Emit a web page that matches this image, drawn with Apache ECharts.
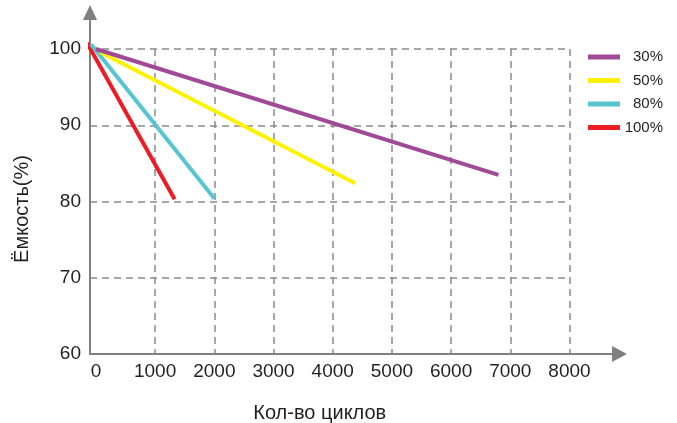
<!DOCTYPE html>
<html>
<head>
<meta charset="utf-8">
<script src="https://cdn.jsdelivr.net/npm/echarts@6/dist/echarts.min.js"></script>
<style>html,body{margin:0;padding:0;background:#fff}#c{width:677px;height:423px}</style>
</head>
<body>
<div id="c"></div>
<script>
// ---- data ----
var seriesNames = ['30%', '50%', '80%', '100%'];
var cycles30 = [0, 6800];   var cap30 = [100, 83.5];
var cycles50 = [70, 4380];  var cap50 = [99.6, 82.4];
var cycles80 = [-80, 2000]; var cap80 = [100.6, 80.4];
var cycles100 = [-150, 1330]; var cap100 = [100.8, 80.3];
var xTickLabels = [0, 1000, 2000, 3000, 4000, 5000, 6000, 7000, 8000];
var yTickLabels = [60, 70, 80, 90, 100];
var xGridValues = [1000, 2000, 3000, 4000, 5000, 6000, 7000, 8000];
var yGridValues = [70, 80, 90, 100];
var colors = ['#a04a97', '#fff200', '#56c5d0', '#ed1c24'];

function pairs(xs, ys) { return xs.map(function (x, i) { return [x, ys[i]]; }); }

var font = '"Liberation Sans", Arial, sans-serif';
var txt = '#231f20';
var axisGray = '#808080';

var chart = echarts.init(document.getElementById('c'), null, {renderer: 'canvas'});
var allData = [pairs(cycles30, cap30), pairs(cycles50, cap50), pairs(cycles80, cap80), pairs(cycles100, cap100)];

chart.setOption({
  animation: false,
  textStyle: {fontFamily: font},
  legend: {
    orient: 'vertical', left: 583, top: 44,
    icon: 'rect', itemWidth: 32, itemHeight: 5, itemGap: 7.5,
    data: seriesNames,
    formatter: '{a|{name}}',
    textStyle: {fontFamily: font, fontSize: 15, color: txt, lineHeight: 16,
      rich: {a: {width: 38, align: 'right', fontSize: 15, fontFamily: font, color: txt, lineHeight: 16}}}
  },
  grid: [
    {left: 90, right: 107.5, top: 49, bottom: 69, outerBoundsMode: 'none', containLabel: false},
    {left: 90, right: 57.5, top: 12.5, bottom: 69, outerBoundsMode: 'none', containLabel: false}
  ],
  xAxis: [
    {
      gridIndex: 0, type: 'value', min: -100, max: 8000,
      axisLine: {show: false, onZero: false},
      axisTick: {show: false, customValues: xGridValues},
      axisLabel: {customValues: xTickLabels, margin: 8, fontSize: 19, color: txt, fontFamily: font,
        formatter: function (v) { return String(v); }},
      splitLine: {show: true, lineStyle: {color: '#8a8a8a', width: 1.5, type: [7, 5]}},
      name: 'Кол-во циклов', nameLocation: 'middle', nameGap: 49,
      nameTextStyle: {fontSize: 20, color: txt, fontFamily: font, padding: [0, 20, 0, 0]}
    },
    {
      gridIndex: 1, type: 'value', min: -100, max: 8845,
      axisLine: {show: true, onZero: false, symbol: ['none', 'triangle'], symbolSize: [16, 15],
        lineStyle: {color: axisGray, width: 2}},
      axisTick: {show: false}, axisLabel: {show: false}, splitLine: {show: false}
    }
  ],
  yAxis: [
    {
      gridIndex: 0, type: 'value', min: 60, max: 100,
      axisLine: {show: false, onZero: false},
      axisTick: {show: false, customValues: yGridValues},
      axisLabel: {customValues: yTickLabels, margin: 9, fontSize: 19, color: txt, fontFamily: font},
      splitLine: {show: true, lineStyle: {color: '#8a8a8a', width: 1.5, type: [7, 5]}},
      name: 'Ёмкость(%)', nameLocation: 'middle', nameGap: 58,
      nameTextStyle: {fontSize: 20, color: txt, fontFamily: font, padding: [0, 15, 0, 0]}
    },
    {
      gridIndex: 1, type: 'value', min: 60, max: 104.79,
      axisLine: {show: true, onZero: false, symbol: ['none', 'triangle'], symbolSize: [14, 15],
        lineStyle: {color: axisGray, width: 2}},
      axisTick: {show: false}, axisLabel: {show: false}, splitLine: {show: false}
    }
  ],
  series: seriesNames.map(function (n, i) {
    return {
      name: n, type: 'line', xAxisIndex: 0, yAxisIndex: 0,
      data: allData[i], symbol: 'none', showSymbol: false, clip: false,
      lineStyle: {color: colors[i], width: 4},
      itemStyle: {color: colors[i]},
      z: 10 - i
    };
  })
});
</script>
</body>
</html>
